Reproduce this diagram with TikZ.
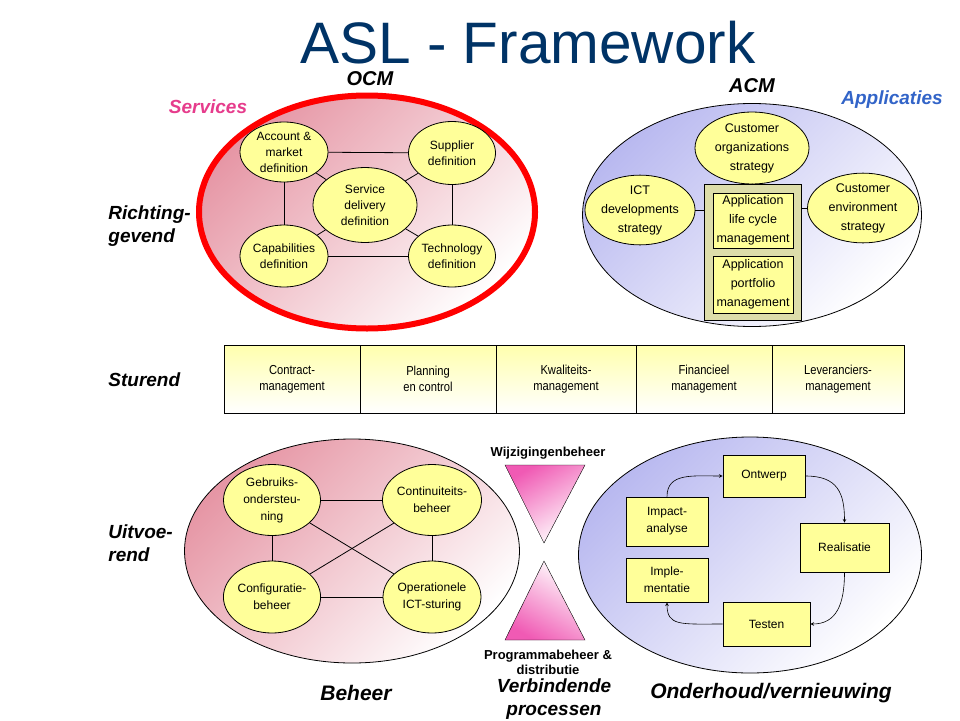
\documentclass[tikz,border=0pt]{standalone}
\usepackage{fontspec}
\setmainfont{Liberation Sans}
\newfontfamily\narrowsans[FakeStretch=0.86]{Liberation Sans}
\usetikzlibrary{shapes.geometric}
\definecolor{titleblue}{RGB}{0,51,102}
\definecolor{bubbleyellow}{RGB}{255,255,153}
\definecolor{rosedark}{RGB}{230,150,165}
\definecolor{lilacdark}{RGB}{185,185,240}
\definecolor{trianglepink}{RGB}{240,90,180}
\definecolor{servicepink}{RGB}{230,60,140}
\definecolor{appblue}{RGB}{50,100,200}
\definecolor{olivebox}{RGB}{221,221,170}

\tikzset{
  areabase/.style={draw, ellipse, inner sep=0pt},
  rosearea/.style={areabase, top color=rosedark, bottom color=white, shading angle=45},
  lilacarea/.style={areabase, top color=lilacdark, bottom color=white, shading angle=45},
  bubble/.style={draw, ellipse, fill=bubbleyellow, inner sep=0pt, align=center,
                 font=\fontsize{12}{16}\selectfont},
  acmbubble/.style={bubble, font=\fontsize{12.5}{19}\selectfont},
  stepbox/.style={draw, fill=bubbleyellow, inner sep=0pt, align=center,
                  font=\fontsize{12}{17}\selectfont},
  rowcell/.style={draw, top color=bubbleyellow!80, bottom color=white, minimum height=68,
                  inner sep=0pt, align=center, font=\narrowsans\fontsize{13}{16}\selectfont},
  heading/.style={inner sep=0pt, align=left, font=\fontsize{19}{23}\selectfont\bfseries\itshape},
  smallhead/.style={inner sep=0pt, align=center, font=\fontsize{13}{15}\selectfont\bfseries},
}

\begin{document}
\begin{tikzpicture}[>=stealth, thick, x=1pt, y=-1pt]
  \useasboundingbox (0,0) rectangle (960,720);

  \node[inner sep=0pt, anchor=base, text depth=0pt, text=titleblue, font=\fontsize{58.5}{60}\selectfont] (title) at (528,63) {ASL - Framework};

  % OCM
  \node[rosearea, draw=red, line width=6pt, minimum width=336, minimum height=233] (ocm) at (367,212) {};
  \node[bubble, minimum width=88, minimum height=60] (acc) at (284,152) {Account \&\\market\\definition};
  \node[bubble, minimum width=87, minimum height=63] (sup) at (452,153) {Supplier\\definition};
  \node[bubble, minimum width=104, minimum height=75] (serv) at (365,205) {Service\\delivery\\definition};
  \node[bubble, minimum width=88, minimum height=62] (cap) at (284,256) {Capabilities\\definition};
  \node[bubble, minimum width=87, minimum height=62] (tech) at (452,256) {Technology\\definition};
  \draw (acc) -- (sup);
  \draw (acc) -- (cap);
  \draw (sup) -- (tech);
  \draw (cap) -- (tech);
  \draw (serv) -- (acc);
  \draw (serv) -- (sup);
  \draw (serv) -- (cap);
  \draw (serv) -- (tech);
  \node[heading, font=\fontsize{20}{24}\selectfont\bfseries\itshape] (ocmlabel) at (370,79) {OCM};
  \node[heading, text=servicepink] (services) at (208,107) {Services};

  % ACM
  \node[lilacarea, minimum width=339, minimum height=223] (acm) at (752,215) {};
  \node[draw, fill=olivebox, minimum width=97, minimum height=136, inner sep=0pt] (appbox) at (752.5,252) {};
  \node[stepbox, minimum width=80, minimum height=55, font=\fontsize{12.5}{19}\selectfont] (lifecycle) at (753,220.5) {Application\\life cycle\\management};
  \node[stepbox, minimum width=80, minimum height=57, font=\fontsize{12.5}{19}\selectfont] (portfolio) at (753,284.5) {Application\\portfolio\\management};
  \node[acmbubble, minimum width=114, minimum height=72] (custorg) at (752,148) {Customer\\organizations\\strategy};
  \node[acmbubble, minimum width=109, minimum height=58] (ictdev) at (640,210) {ICT\\developments\\strategy};
  \node[acmbubble, minimum width=111, minimum height=63] (custenv) at (863,208) {Customer\\environment\\strategy};
  \draw (custorg) -- (appbox);
  \draw (ictdev) -- (ictdev -| appbox.west);
  \draw (custenv) -- (custenv -| appbox.east);
  \node[heading, font=\fontsize{20}{24}\selectfont\bfseries\itshape] (acmlabel) at (752,86) {ACM};
  \node[heading, text=appblue] (applicaties) at (892,100) {Applicaties};

  % Sturend
  \node[rowcell, minimum width=136] (contract) at (292,379) {Contract-\\management};
  \node[rowcell, minimum width=136] (planning) at (428,379) {Planning\\en control};
  \node[rowcell, minimum width=140] (kwaliteit) at (566,379) {Kwaliteits-\\management};
  \node[rowcell, minimum width=136] (financieel) at (704,379) {Financieel\\management};
  \node[rowcell, minimum width=132] (leverancier) at (838,379) {Leveranciers-\\management};

  \node[heading, anchor=west] (richting) at (108,226) {Richting-\\gevend};
  \node[heading, anchor=west] (sturend) at (108,380) {Sturend};
  \node[heading, anchor=west] (uitvoerend) at (108,543) {Uitvoe-\\rend};

  % Beheer
  \node[rosearea, minimum width=335, minimum height=224] (beheer) at (352,551) {};
  \node[bubble, minimum width=97, minimum height=71, font=\fontsize{12}{17}\selectfont] (gebr) at (272,500) {Gebruiks-\\ondersteu-\\ning};
  \node[bubble, minimum width=98, minimum height=71, font=\fontsize{12}{17}\selectfont] (cont) at (432,500) {Continuiteits-\\beheer};
  \node[bubble, minimum width=97, minimum height=72, font=\fontsize{12}{17}\selectfont] (conf) at (272,597) {Configuratie-\\beheer};
  \node[bubble, minimum width=98, minimum height=72, font=\fontsize{12}{17}\selectfont] (oper) at (432,597) {Operationele\\ICT-sturing};
  \draw (gebr) -- (cont);
  \draw (conf) -- (oper);
  \draw (gebr) -- (conf);
  \draw (cont) -- (oper);
  \draw (gebr) -- (oper);
  \draw (cont) -- (conf);
  \node[heading, font=\fontsize{21}{25}\selectfont\bfseries\itshape] (beheerlabel) at (356,693) {Beheer};

  % Verbindende processen
  \draw[thin, top color=trianglepink, bottom color=white, shading angle=30] (505,465) -- (585,465) -- (544,543) -- cycle;
  \draw[thin, top color=white, bottom color=trianglepink, shading angle=-30] (544,561) -- (585,640) -- (505,640) -- cycle;
  \node[smallhead] (wijziging) at (548,453) {Wijzigingenbeheer};
  \node[smallhead] (programma) at (548,662) {Programmabeheer \&\\distributie};
  \node[heading, align=center] (verbindend) at (554,699) {Verbindende\\processen};

  % Onderhoud/vernieuwing
  \node[lilacarea, minimum width=343, minimum height=236] (onderhoud) at (750,555) {};
  \node[stepbox, minimum width=82, minimum height=42] (ontwerp) at (764,476) {Ontwerp};
  \node[stepbox, minimum width=82, minimum height=49] (impact) at (667,521.5) {Impact-\\analyse};
  \node[stepbox, minimum width=89, minimum height=49] (realisatie) at (844.5,547.5) {Realisatie};
  \node[stepbox, minimum width=82, minimum height=44] (implementatie) at (667,580) {Imple-\\mentatie};
  \node[stepbox, minimum width=87, minimum height=44] (testen) at (766.5,624) {Testen};
  \draw[->, semithick] (impact.north) .. controls +(0,-24) and +(-30,0) .. (ontwerp.west);
  \draw[->, semithick] (ontwerp.east) .. controls +(32,0) and +(0,-30) .. (realisatie.north);
  \draw[->, semithick] (realisatie.south) .. controls +(0,32) and +(26,0) .. (testen.east);
  \draw[->, semithick] (testen.west) .. controls +(-42,0) and +(0,24) .. (implementatie.south);
  \node[heading, font=\fontsize{21}{25}\selectfont\bfseries\itshape] (onderhoudlabel) at (771,693) {Onderhoud/vernieuwing};
\end{tikzpicture}
\end{document}
